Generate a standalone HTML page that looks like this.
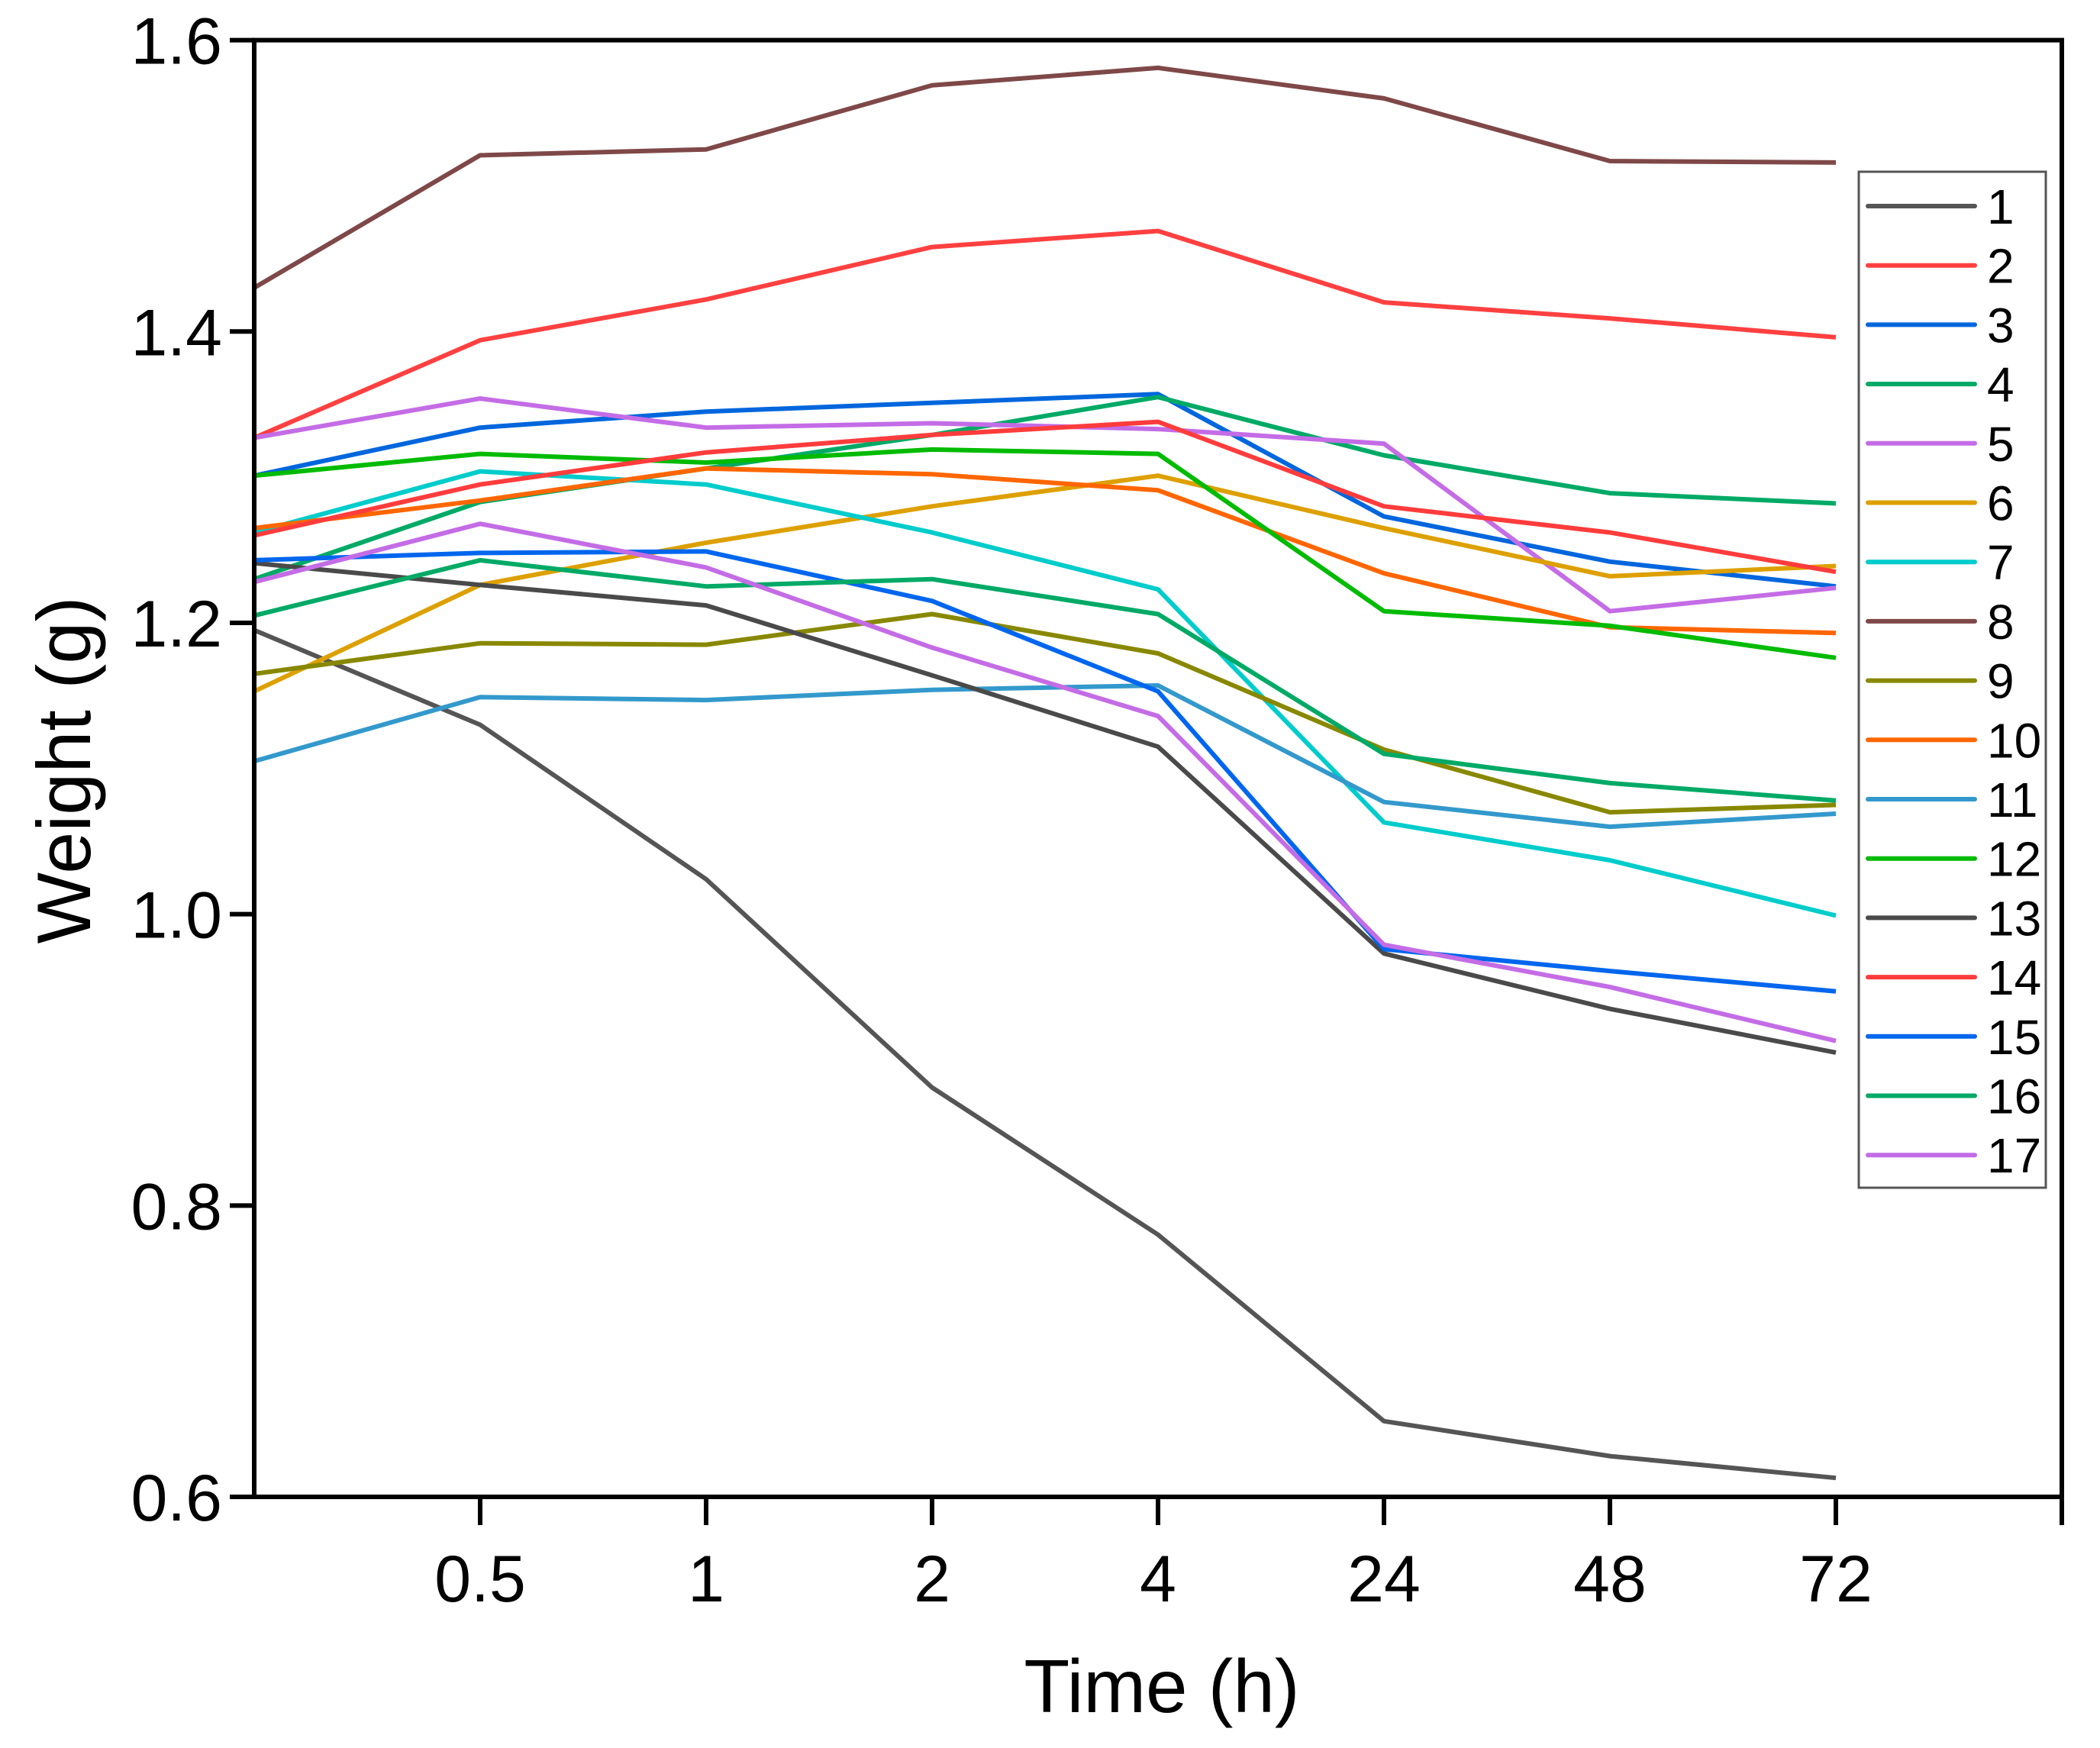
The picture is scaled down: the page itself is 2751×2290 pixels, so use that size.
<!DOCTYPE html>
<html><head><meta charset="utf-8"><style>
html,body{margin:0;padding:0;background:#fff;}
svg{display:block;font-family:"Liberation Sans",Arial,sans-serif;}
</style></head><body>
<svg id="chart" width="2751" height="2290" viewBox="0 0 2751 2290" xmlns="http://www.w3.org/2000/svg">
<rect width="2751" height="2290" fill="#fff"/>
<g id="series"></g>
<g id="axes"></g>
<g id="legend"></g>
</svg>
<script>
const categories = ["0","0.5","1","2","4","24","48","72"];
const yTicks = [0.6,0.8,1.0,1.2,1.4,1.6];
const yTickLabels = ["0.6","0.8","1.0","1.2","1.4","1.6"];
const seriesNames = ["1","2","3","4","5","6","7","8","9","10","11","12","13","14","15","16","17"];
const seriesColors = ["#555555","#ff4040","#0066dd","#00aa66","#c46ce6","#dda000","#00cccc","#7f4848","#888800","#ff6600","#3399cc","#00bb00","#4a4a4a","#ff3c3c","#0066ee","#00aa66","#c46ce6"];
const s1  = [1.195,1.130,1.024,0.881,0.780,0.652,0.628,0.613];
const s2  = [1.327,1.394,1.422,1.458,1.469,1.420,1.409,1.396];
const s3  = [1.301,1.334,1.345,1.351,1.357,1.273,1.242,1.225];
const s4  = [1.230,1.283,1.306,1.329,1.355,1.315,1.289,1.282];
const s5  = [1.327,1.354,1.334,1.337,1.333,1.323,1.208,1.224];
const s6  = [1.153,1.226,1.255,1.280,1.301,1.265,1.232,1.239];
const s7  = [1.262,1.304,1.295,1.262,1.223,1.063,1.037,0.999];
const s8  = [1.430,1.521,1.525,1.569,1.581,1.560,1.517,1.516];
const s9  = [1.165,1.186,1.185,1.206,1.179,1.113,1.070,1.075];
const s10 = [1.265,1.284,1.306,1.302,1.291,1.234,1.197,1.193];
const s11 = [1.105,1.149,1.147,1.154,1.157,1.077,1.060,1.069];
const s12 = [1.301,1.316,1.310,1.319,1.316,1.208,1.198,1.176];
const s13 = [1.241,1.226,1.212,1.164,1.115,0.973,0.935,0.905];
const s14 = [1.260,1.295,1.317,1.329,1.338,1.280,1.262,1.235];
const s15 = [1.243,1.248,1.249,1.215,1.153,0.976,0.961,0.947];
const s16 = [1.205,1.243,1.225,1.230,1.206,1.110,1.090,1.078];
const s17 = [1.228,1.268,1.238,1.183,1.136,0.979,0.950,0.913];
const seriesValues = [s1,s2,s3,s4,s5,s6,s7,s8,s9,s10,s11,s12,s13,s14,s15,s16,s17];

const NS="http://www.w3.org/2000/svg";
const L=333,R=2701,T=52.6,B=1961;
const yMin=0.6,yMax=1.6;
const nSlots=8;
function xScale(i){return L+(R-L)*i/nSlots;}
function yScale(v){return B-(v-yMin)/(yMax-yMin)*(B-T);}
function mk(tag,attrs,parent){const e=document.createElementNS(NS,tag);for(const k in attrs)e.setAttribute(k,attrs[k]);parent.appendChild(e);return e;}

const gS=document.getElementById('series');
seriesValues.forEach((vals,si)=>{
  const pts=vals.map((v,i)=>xScale(i).toFixed(1)+","+yScale(v).toFixed(1)).join(" ");
  const pl=mk('polyline',{points:pts,fill:'none',stroke:seriesColors[si],'stroke-width':6,'stroke-linejoin':'round'},gS);
  
  
});

const gA=document.getElementById('axes');
const frame=mk('rect',{x:L,y:T,width:R-L,height:B-T,fill:'none',stroke:'#000','stroke-width':6},gA);


yTicks.forEach((v,i)=>{
  const y=yScale(v);
  const t=mk('line',{x1:L-32,x2:L,y1:y,y2:y,stroke:'#000','stroke-width':6},gA);
  
  
  const lb=mk('text',{x:L-42,y:y+31,'text-anchor':'end','font-size':86,fill:'#000'},gA);
  lb.textContent=yTickLabels[i];
  
  
});
categories.forEach((c,i)=>{
  if(i===0)return;
  const x=xScale(i);
  const t=mk('line',{x1:x,x2:x,y1:B,y2:B+37,stroke:'#000','stroke-width':6},gA);
  
  
  const lb=mk('text',{x:x,y:2098,'text-anchor':'middle','font-size':86,fill:'#000'},gA);
  lb.textContent=c;
  
  
});
const rt=mk('line',{x1:R,x2:R,y1:B,y2:B+37,stroke:'#000','stroke-width':6},gA);


const xt=mk('text',{x:1522,y:2243,'text-anchor':'middle','font-size':98,fill:'#000'},gA);
xt.textContent="Time (h)";


const yt=mk('text',{x:0,y:0,'text-anchor':'middle','font-size':99,fill:'#000',transform:'translate(118,1009) rotate(-90)'},gA);
yt.textContent="Weight (g)";



const gL=document.getElementById('legend');
const box=mk('rect',{x:2435,y:225,width:245,height:1331,fill:'#fff',stroke:'#555','stroke-width':3},gL);


seriesNames.forEach((n,i)=>{
  const y=270+i*77.7;
  const ln=mk('line',{x1:2447,x2:2587,y1:y,y2:y,stroke:seriesColors[i],'stroke-width':6,'stroke-linecap':'round'},gL);
  
  
  const tx=mk('text',{x:2603,y:y+23,'font-size':64,fill:'#000'},gL);
  tx.textContent=n;
  
  
});
</script>
</body></html>
